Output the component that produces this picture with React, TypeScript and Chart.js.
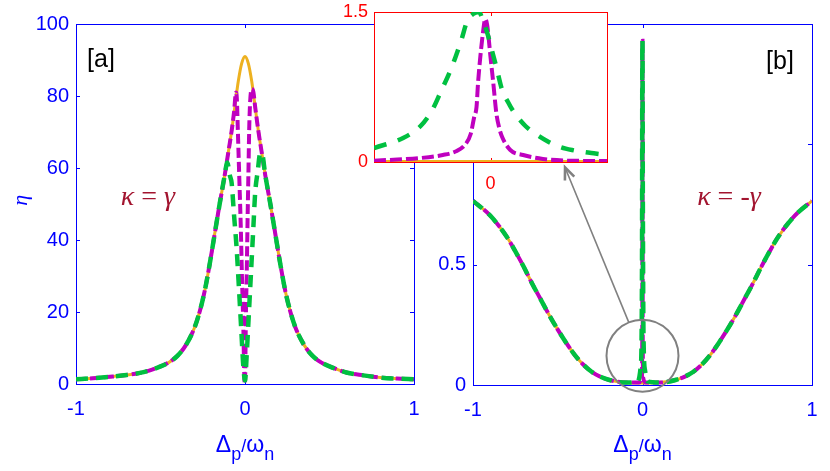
import React, { useEffect, useRef } from 'react';
import { Chart, registerables } from 'chart.js';
Chart.register(...registerables);

// ---------- Panel [a] (kappa = gamma) ----------
const aOrangeX = [-1, -0.9, -0.8, -0.7, -0.6, -0.5, -0.45, -0.4, -0.35, -0.3, -0.27, -0.24, -0.21, -0.18, -0.15, -0.12, -0.1, -0.08, -0.06, -0.04, -0.02, 0, 0.02, 0.04, 0.06, 0.08, 0.1, 0.12, 0.15, 0.18, 0.21, 0.24, 0.27, 0.3, 0.35, 0.4, 0.45, 0.5, 0.6, 0.7, 0.8, 0.9, 1];
const aOrangeY = [1.3, 1.6, 2.0, 2.5, 3.3, 4.9, 6.0, 7.8, 10.8, 15.5, 19.8, 25.5, 33, 41.5, 50, 58, 64, 70, 77, 84, 89, 91, 89, 84, 77, 70, 64, 58, 50, 41.5, 33, 25.5, 19.8, 15.5, 10.8, 7.8, 6.0, 4.9, 3.2, 2.4, 1.8, 1.5, 1.3];

const aMagX = [-1, -0.9, -0.8, -0.7, -0.6, -0.5, -0.45, -0.4, -0.35, -0.3, -0.27, -0.24, -0.21, -0.18, -0.15, -0.12, -0.1, -0.08, -0.065, -0.053, -0.048, -0.043, -0.034, -0.025, -0.018, -0.01, -0.004, 0, 0.002, 0.005, 0.01, 0.015, 0.02, 0.025, 0.03, 0.04, 0.05, 0.06, 0.08, 0.1, 0.12, 0.15, 0.18, 0.21, 0.24, 0.27, 0.3, 0.35, 0.4, 0.45, 0.5, 0.6, 0.7, 0.8, 0.9, 1];
const aMagY = [1.3, 1.6, 2.0, 2.5, 3.3, 4.9, 6.0, 7.8, 10.8, 15.5, 19.8, 25.5, 33, 41.5, 50, 58, 64, 70, 75.5, 81, 79, 71.5, 57.6, 43.7, 29.8, 16, 2, 0, 5, 18, 30, 45, 58, 71, 78, 82, 81, 77, 70, 64, 58, 50, 41.5, 33, 25.5, 19.8, 15.5, 10.8, 7.8, 6.0, 4.9, 3.2, 2.4, 1.8, 1.5, 1.3];

const aGreenX = [-1, -0.9, -0.8, -0.7, -0.6, -0.5, -0.45, -0.4, -0.35, -0.3, -0.27, -0.24, -0.21, -0.18, -0.15, -0.12, -0.105, -0.09, -0.079, -0.065, -0.05, -0.035, -0.022, -0.01, 0, 0.01, 0.02, 0.03, 0.04, 0.05, 0.06, 0.075, 0.09, 0.1, 0.12, 0.15, 0.18, 0.21, 0.24, 0.27, 0.3, 0.35, 0.4, 0.45, 0.5, 0.6, 0.7, 0.8, 0.9, 1];
const aGreenY = [1.3, 1.6, 2.0, 2.5, 3.3, 4.9, 6.0, 7.8, 10.8, 15.5, 19.8, 25.5, 33, 41.5, 50, 58, 61.5, 58, 55.8, 47, 38, 26, 15, 5, 1, 8, 17, 26, 35, 44, 53, 59, 64, 64, 58, 50, 41.5, 33, 25.5, 19.8, 15.5, 10.8, 7.8, 6.0, 4.9, 3.2, 2.4, 1.8, 1.5, 1.3];

// ---------- Panel [b] (kappa = -gamma) ----------
const bX = [-1, -0.9, -0.8, -0.75, -0.7, -0.65, -0.6, -0.55, -0.5, -0.45, -0.4, -0.35, -0.3, -0.25, -0.2, -0.1, 0, 0.1, 0.2, 0.25, 0.3, 0.35, 0.4, 0.45, 0.5, 0.55, 0.6, 0.65, 0.7, 0.75, 0.8, 0.9, 1];
const bBroad = [0.765, 0.705, 0.615, 0.555, 0.49, 0.42, 0.355, 0.29, 0.23, 0.175, 0.125, 0.085, 0.055, 0.035, 0.022, 0.01, 0.008, 0.01, 0.022, 0.035, 0.055, 0.085, 0.125, 0.175, 0.23, 0.29, 0.355, 0.42, 0.49, 0.555, 0.615, 0.705, 0.765];
const bMagSpikeX = [-0.02, -0.004, -0.0015, -0.0005, 0, 0.0005, 0.0015, 0.004, 0.02];
const bMagSpikeY = [0.01, 0.03, 0.2, 1.3, 1.43, 1.2, 0.2, 0.03, 0.01];
const bGreenSpikeX = [-0.03, -0.01, -0.003, -0.001, 0, 0.002, 0.006, 0.015, 0.03];
const bGreenSpikeY = [0.012, 0.08, 0.5, 1.4, 1.43, 0.8, 0.2, 0.06, 0.015];

// ---------- Inset (zoom around 0 in panel b) ----------
const insOrangeX = [-1, 1];
const insOrangeY = [0, 0];
const insMagX = [-1, -0.8, -0.6, -0.41, -0.3, -0.22, -0.17, -0.14, -0.12, -0.107, -0.09, -0.065, -0.045, -0.03, -0.02, 0, 0.024, 0.05, 0.075, 0.1, 0.17, 0.28, 0.45, 0.68, 1];
const insMagY = [0.013, 0.025, 0.04, 0.07, 0.105, 0.17, 0.28, 0.45, 0.55, 0.79, 1.02, 1.29, 1.43, 1.38, 1.29, 1.05, 0.79, 0.49, 0.34, 0.25, 0.12, 0.07, 0.03, 0.013, 0.01];
const insGreenX = [-1, -0.75, -0.6, -0.5, -0.42, -0.35, -0.3, -0.25, -0.2, -0.15, -0.1, -0.06, -0.03, 0, 0.05, 0.1, 0.15, 0.2, 0.3, 0.4, 0.5, 0.6, 0.7, 0.8, 0.9, 1];
const insGreenY = [0.14, 0.24, 0.36, 0.52, 0.72, 0.9, 1.05, 1.22, 1.41, 1.48, 1.5, 1.4, 1.3, 1.17, 0.95, 0.72, 0.6, 0.5, 0.36, 0.27, 0.2, 0.15, 0.12, 0.1, 0.085, 0.07];

// tick values
const panelXTicks = [-1, 0, 1];
const aYTicks = [0, 20, 40, 60, 80, 100];
const bYTicks = [0, 0.5, 1, 1.5];
const insXTicks = [0];
const insYTicks = [0, 1.5];

const SANS = '"Liberation Sans", Arial, Helvetica, sans-serif';
const SERIF = '"Liberation Serif", "DejaVu Serif", serif';
const BLUE = '#0000ff';
const RED = '#ff0000';
const ORANGE = '#edb120';
const MAGENTA = '#bf00bf';
const GREEN = '#00c040';
const DARKRED = '#a2142f';

function pts(xs: number[], ys: number[]) {
  return xs.map((x, i) => ({ x, y: ys[i] }));
}
function withSpike(bx: number[], by: number[], sx: number[], sy: number[]) {
  const lo = Math.min(...sx), hi = Math.max(...sx);
  return pts(bx, by).filter(p => p.x < lo || p.x > hi).concat(pts(sx, sy)).sort((a, b) => a.x - b.x);
}

type Part = { t: string; font: string; dy?: number };
type TextItem = { x?: number; y?: number; px?: number; py?: number; parts: Part[]; color: string; rot?: number };

function makeTextPlugin(items: TextItem[]) {
  return {
    id: 'texts',
    afterDatasetsDraw(chart: any) {
      const { ctx, chartArea: a, scales } = chart;
      for (const it of items) {
        const X = it.x !== undefined ? scales.x.getPixelForValue(it.x) : a.left + (it.px || 0);
        const Y = it.y !== undefined ? scales.y.getPixelForValue(it.y) : a.bottom + (it.py || 0);
        ctx.save();
        ctx.translate(X, Y);
        if (it.rot) ctx.rotate(it.rot);
        ctx.fillStyle = it.color;
        ctx.textBaseline = 'alphabetic';
        ctx.textAlign = 'left';
        let w = 0;
        for (const p of it.parts) { ctx.font = p.font; w += ctx.measureText(p.t).width; }
        let cx = -w / 2;
        for (const p of it.parts) {
          ctx.font = p.font;
          ctx.fillText(p.t, cx, p.dy || 0);
          cx += ctx.measureText(p.t).width;
        }
        ctx.restore();
      }
    },
  };
}

function makeFramePlugin(cfg: { color: string; len: number; bg?: string; xb: boolean; xt: boolean; yl: boolean; yr: boolean; xTicks: number[]; yTicks: number[] }) {
  return {
    id: 'frame',
    beforeDraw(chart: any) {
      if (!cfg.bg) return;
      const { ctx, chartArea: a } = chart;
      ctx.save();
      ctx.fillStyle = cfg.bg;
      ctx.fillRect(a.left, a.top, a.right - a.left, a.bottom - a.top);
      ctx.restore();
    },
    beforeDatasetsDraw(chart: any) {
      const { ctx, chartArea: a, scales } = chart;
      const L = cfg.len;
      ctx.save();
      ctx.strokeStyle = cfg.color;
      ctx.lineWidth = 1;
      ctx.beginPath();
      for (const v of cfg.xTicks) {
        const p = Math.round(scales.x.getPixelForValue(v)) + 0.5;
        if (cfg.xb) { ctx.moveTo(p, a.bottom); ctx.lineTo(p, a.bottom - L); }
        if (cfg.xt) { ctx.moveTo(p, a.top); ctx.lineTo(p, a.top + L); }
      }
      for (const v of cfg.yTicks) {
        const p = Math.round(scales.y.getPixelForValue(v)) + 0.5;
        if (cfg.yl) { ctx.moveTo(a.left, p); ctx.lineTo(a.left + L, p); }
        if (cfg.yr) { ctx.moveTo(a.right, p); ctx.lineTo(a.right - L, p); }
      }
      ctx.stroke();
      ctx.strokeRect(Math.round(a.left) + 0.5, Math.round(a.top) + 0.5, Math.round(a.right - a.left), Math.round(a.bottom - a.top));
      ctx.restore();
    },
  };
}

function makeAnnotPlugin(c: { cx: number; cy: number; r: number; tx: number; ty: number }) {
  return {
    id: 'annot',
    afterDatasetsDraw(chart: any) {
      const { ctx, scales } = chart;
      const cx = scales.x.getPixelForValue(c.cx), cy = scales.y.getPixelForValue(c.cy);
      const tx = scales.x.getPixelForValue(c.tx), ty = scales.y.getPixelForValue(c.ty);
      ctx.save();
      ctx.strokeStyle = '#808080';
      ctx.lineWidth = 2;
      ctx.beginPath();
      ctx.arc(cx, cy, c.r, 0, Math.PI * 2);
      ctx.stroke();
      const ang = Math.atan2(ty - cy, tx - cx);
      const sx = cx + c.r * Math.cos(ang), sy = cy + c.r * Math.sin(ang);
      ctx.lineWidth = 1.6;
      ctx.beginPath();
      ctx.moveTo(sx, sy);
      ctx.lineTo(tx, ty);
      ctx.stroke();
      ctx.lineWidth = 2.6;
      ctx.beginPath();
      const back = ang + Math.PI;
      ctx.moveTo(tx + 13 * Math.cos(back - 0.4), ty + 13 * Math.sin(back - 0.4));
      ctx.lineTo(tx, ty);
      ctx.lineTo(tx + 13 * Math.cos(back + 0.4), ty + 13 * Math.sin(back + 0.4));
      ctx.stroke();
      ctx.restore();
    },
  };
}

function axisTitle(py: number): TextItem {
  return {
    x: 0, py, color: BLUE,
    parts: [
      { t: 'Δ', font: `23px ${SANS}` },
      { t: 'p', font: `18px ${SANS}`, dy: 8 },
      { t: '/', font: `18px ${SANS}` },
      { t: 'ω', font: `23px ${SANS}` },
      { t: 'n', font: `18px ${SANS}`, dy: 8 },
    ],
  };
}

function zeroPad(s: any) {
  s.paddingLeft = 0; s.paddingRight = 0; s.paddingTop = 0; s.paddingBottom = 0;
}

function baseOptions(o: { xMin: number; xMax: number; yMin: number; yMax: number; xTicks: number[]; yTicks: number[]; pad: any; yW: number; xH: number; tickColor: string; tickSize: number; yPad: number; xPad: number; xLabel: (v: number) => string; yLabel: (v: number) => string }) {
  return {
    responsive: false,
    animation: false,
    devicePixelRatio: 1,
    events: [],
    layout: { padding: o.pad },
    elements: { point: { radius: 0 }, line: { cubicInterpolationMode: 'monotone', fill: false, borderCapStyle: 'butt' } },
    plugins: { legend: { display: false }, tooltip: { enabled: false }, title: { display: false } },
    scales: {
      x: {
        type: 'linear', min: o.xMin, max: o.xMax,
        afterBuildTicks: (s: any) => { s.ticks = o.xTicks.map(v => ({ value: v })); },
        ticks: { color: o.tickColor, font: { family: SANS, size: o.tickSize }, padding: o.xPad, maxRotation: 0, autoSkip: false, callback: (v: any) => o.xLabel(Number(v)) },
        grid: { display: false, drawTicks: false },
        border: { display: false },
        afterFit: (s: any) => { s.height = o.xH; zeroPad(s); },
      },
      y: {
        type: 'linear', min: o.yMin, max: o.yMax,
        afterBuildTicks: (s: any) => { s.ticks = o.yTicks.map(v => ({ value: v })); },
        ticks: { color: o.tickColor, font: { family: SANS, size: o.tickSize }, padding: o.yPad, autoSkip: false, callback: (v: any) => o.yLabel(Number(v)) },
        grid: { display: false, drawTicks: false },
        border: { display: false },
        afterFit: (s: any) => { s.width = o.yW; zeroPad(s); },
      },
    },
  };
}

const plain = (v: number) => String(v);
const bLabel = (v: number) => (v > 0.5 ? '' : String(v));

export default function App() {
  const aRef = useRef<HTMLCanvasElement>(null);
  const bRef = useRef<HTMLCanvasElement>(null);
  const iRef = useRef<HTMLCanvasElement>(null);

  useEffect(() => {
    const charts: Chart[] = [];
    const kFont = `italic 28px ${SERIF}`;
    const kFontN = `28px ${SERIF}`;

    // Panel a: canvas 0..430, chart area x 76..414, y 24..384
    charts.push(new Chart(aRef.current as HTMLCanvasElement, {
      type: 'line',
      data: {
        datasets: [
          { data: pts(aGreenX, aGreenY), borderColor: GREEN, borderWidth: 4.5, borderDash: [12, 8], order: 0 },
          { data: pts(aMagX, aMagY), borderColor: MAGENTA, borderWidth: 4, borderDash: [10, 4], order: 1 },
          { data: pts(aOrangeX, aOrangeY), borderColor: ORANGE, borderWidth: 3, order: 2 },
        ],
      },
      options: baseOptions({
        xMin: -1, xMax: 1, yMin: 0, yMax: 100, xTicks: panelXTicks, yTicks: aYTicks,
        pad: { left: 0, top: 24, right: 16, bottom: 0 }, yW: 76, xH: 87,
        tickColor: BLUE, tickSize: 20, yPad: 7, xPad: 13, xLabel: plain, yLabel: plain,
      }) as any,
      plugins: [
        makeFramePlugin({ color: BLUE, len: 4, xb: true, xt: true, yl: true, yr: true, xTicks: panelXTicks, yTicks: aYTicks }),
        makeTextPlugin([
          { x: -0.852, y: 88, color: '#000000', parts: [{ t: '[a]', font: `25px ${SANS}` }] },
          { x: -0.574, y: 49.7, color: DARKRED, parts: [{ t: 'κ', font: kFont }, { t: ' = ', font: kFontN }, { t: 'γ', font: kFont }] },
          { px: -49, y: 51, rot: -Math.PI / 2, color: BLUE, parts: [{ t: 'η', font: `italic 22px ${SERIF}` }] },
          axisTitle(68),
        ]),
      ],
    } as any));

    // Panel b: canvas 430..830, chart area x 473..812, y 24..385
    charts.push(new Chart(bRef.current as HTMLCanvasElement, {
      type: 'line',
      data: {
        datasets: [
          { data: withSpike(bX, bBroad, bGreenSpikeX, bGreenSpikeY), borderColor: GREEN, borderWidth: 4.5, borderDash: [12, 8], order: 0 },
          { data: withSpike(bX, bBroad, bMagSpikeX, bMagSpikeY), borderColor: MAGENTA, borderWidth: 4, borderDash: [10, 4], order: 1 },
          { data: pts(bX, bBroad), borderColor: ORANGE, borderWidth: 3, order: 2 },
        ],
      },
      options: baseOptions({
        xMin: -1, xMax: 1, yMin: 0, yMax: 1.5, xTicks: panelXTicks, yTicks: bYTicks,
        pad: { left: 0, top: 24, right: 18, bottom: 0 }, yW: 43, xH: 86,
        tickColor: BLUE, tickSize: 20, yPad: 7, xPad: 13, xLabel: plain, yLabel: bLabel,
      }) as any,
      plugins: [
        makeFramePlugin({ color: BLUE, len: 4, xb: true, xt: true, yl: true, yr: true, xTicks: panelXTicks, yTicks: bYTicks }),
        makeAnnotPlugin({ cx: 0, cy: 0.122, r: 36, tx: -0.457, ty: 0.904 }),
        makeTextPlugin([
          { x: 0.811, y: 1.3125, color: '#000000', parts: [{ t: '[b]', font: `25px ${SANS}` }] },
          { x: 0.51, y: 0.75, color: DARKRED, parts: [{ t: 'κ', font: kFont }, { t: ' = -', font: kFontN }, { t: 'γ', font: kFont }] },
          axisTitle(67),
        ]),
      ],
    } as any));

    // Inset: canvas 330..630 x 0..200, chart area x 374..607, y 12..162
    charts.push(new Chart(iRef.current as HTMLCanvasElement, {
      type: 'line',
      data: {
        datasets: [
          { data: pts(insGreenX, insGreenY), borderColor: GREEN, borderWidth: 4.5, borderDash: [13, 12], order: 0 },
          { data: pts(insMagX, insMagY), borderColor: MAGENTA, borderWidth: 4, borderDash: [12, 4], order: 1 },
          { data: pts(insOrangeX, insOrangeY), borderColor: ORANGE, borderWidth: 4, order: 2 },
        ],
      },
      options: baseOptions({
        xMin: -1, xMax: 1, yMin: 0, yMax: 1.5, xTicks: insXTicks, yTicks: insYTicks,
        pad: { left: 0, top: 12, right: 23, bottom: 0 }, yW: 44, xH: 38,
        tickColor: RED, tickSize: 18, yPad: 6, xPad: 11, xLabel: plain, yLabel: plain,
      }) as any,
      plugins: [
        makeFramePlugin({ color: RED, len: 4, bg: '#ffffff', xb: true, xt: true, yl: false, yr: false, xTicks: insXTicks, yTicks: [] }),
      ],
    } as any));

    return () => charts.forEach(c => c.destroy());
  }, []);

  return (
    <div style={{ position: 'absolute', left: 0, top: 0, width: 830, height: 471, background: '#ffffff', overflow: 'hidden' }}>
      <canvas ref={aRef} width={430} height={471} style={{ position: 'absolute', left: 0, top: 0 }} />
      <canvas ref={bRef} width={400} height={471} style={{ position: 'absolute', left: 430, top: 0 }} />
      <canvas ref={iRef} width={300} height={200} style={{ position: 'absolute', left: 330, top: 0 }} />
    </div>
  );
}
